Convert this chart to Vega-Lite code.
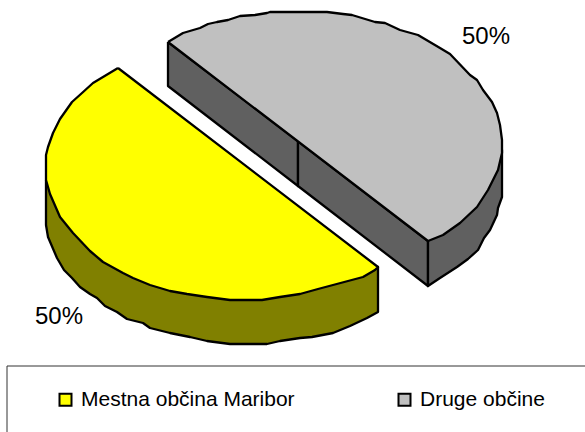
{"$schema":"https://vega.github.io/schema/vega-lite/v6.json","width":585,"height":432,"padding":0,"autosize":{"type":"fit","contains":"padding"},"background":"white","view":{"stroke":null},
"datasets":{"shapes":[
{"s":"a1","part":"Druge občine (stran)","i":0,"x":168,"y":42},{"s":"a1","part":"Druge občine (stran)","i":1,"x":298,"y":141},{"s":"a1","part":"Druge občine (stran)","i":2,"x":298,"y":186},{"s":"a1","part":"Druge občine (stran)","i":3,"x":168,"y":86},{"s":"a1","part":"Druge občine (stran)","i":4,"x":168,"y":42},
{"s":"a2","part":"Druge občine (stran)","i":0,"x":298,"y":141},{"s":"a2","part":"Druge občine (stran)","i":1,"x":428,"y":241},{"s":"a2","part":"Druge občine (stran)","i":2,"x":428,"y":286},{"s":"a2","part":"Druge občine (stran)","i":3,"x":298,"y":186},{"s":"a2","part":"Druge občine (stran)","i":4,"x":298,"y":141},
{"s":"a3","part":"Druge občine (stran)","i":0,"x":428,"y":241},{"s":"a3","part":"Druge občine (stran)","i":1,"x":502,"y":150},{"s":"a3","part":"Druge občine (stran)","i":2,"x":502,"y":197},{"s":"a3","part":"Druge občine (stran)","i":3,"x":498,"y":208},{"s":"a3","part":"Druge občine (stran)","i":4,"x":497,"y":215},{"s":"a3","part":"Druge občine (stran)","i":5,"x":490,"y":230},{"s":"a3","part":"Druge občine (stran)","i":6,"x":484,"y":238},{"s":"a3","part":"Druge občine (stran)","i":7,"x":478,"y":250},{"s":"a3","part":"Druge občine (stran)","i":8,"x":468,"y":259},{"s":"a3","part":"Druge občine (stran)","i":9,"x":457,"y":267},{"s":"a3","part":"Druge občine (stran)","i":10,"x":440,"y":278},{"s":"a3","part":"Druge občine (stran)","i":11,"x":428,"y":286},{"s":"a3","part":"Druge občine (stran)","i":12,"x":428,"y":241},
{"s":"b","part":"Druge občine","i":0,"x":168,"y":42},{"s":"b","part":"Druge občine","i":1,"x":183,"y":33},{"s":"b","part":"Druge občine","i":2,"x":200,"y":28},{"s":"b","part":"Druge občine","i":3,"x":208,"y":24},{"s":"b","part":"Druge občine","i":4,"x":217,"y":22},{"s":"b","part":"Druge občine","i":5,"x":228,"y":20},{"s":"b","part":"Druge občine","i":6,"x":240,"y":16},{"s":"b","part":"Druge občine","i":7,"x":255,"y":15},{"s":"b","part":"Druge občine","i":8,"x":267,"y":13},{"s":"b","part":"Druge občine","i":9,"x":270,"y":12},{"s":"b","part":"Druge občine","i":10,"x":327,"y":12},{"s":"b","part":"Druge občine","i":11,"x":343,"y":14},{"s":"b","part":"Druge občine","i":12,"x":352,"y":15},{"s":"b","part":"Druge občine","i":13,"x":375,"y":22},{"s":"b","part":"Druge občine","i":14,"x":385,"y":23},{"s":"b","part":"Druge občine","i":15,"x":400,"y":30},{"s":"b","part":"Druge občine","i":16,"x":418,"y":35},{"s":"b","part":"Druge občine","i":17,"x":440,"y":48},{"s":"b","part":"Druge občine","i":18,"x":450,"y":54},{"s":"b","part":"Druge občine","i":19,"x":470,"y":75},{"s":"b","part":"Druge občine","i":20,"x":477,"y":80},{"s":"b","part":"Druge občine","i":21,"x":483,"y":90},{"s":"b","part":"Druge občine","i":22,"x":492,"y":102},{"s":"b","part":"Druge občine","i":23,"x":497,"y":113},{"s":"b","part":"Druge občine","i":24,"x":500,"y":125},{"s":"b","part":"Druge občine","i":25,"x":502,"y":140},{"s":"b","part":"Druge občine","i":26,"x":502,"y":153},{"s":"b","part":"Druge občine","i":27,"x":498,"y":170},{"s":"b","part":"Druge občine","i":28,"x":494,"y":178},{"s":"b","part":"Druge občine","i":29,"x":488,"y":190},{"s":"b","part":"Druge občine","i":30,"x":477,"y":207},{"s":"b","part":"Druge občine","i":31,"x":460,"y":223},{"s":"b","part":"Druge občine","i":32,"x":443,"y":235},{"s":"b","part":"Druge občine","i":33,"x":428,"y":241},{"s":"b","part":"Druge občine","i":34,"x":168,"y":42},
{"s":"c","part":"Mestna občina Maribor (stran)","i":0,"x":46,"y":180},{"s":"c","part":"Mestna občina Maribor (stran)","i":1,"x":46,"y":225},{"s":"c","part":"Mestna občina Maribor (stran)","i":2,"x":48,"y":237},{"s":"c","part":"Mestna občina Maribor (stran)","i":3,"x":57,"y":258},{"s":"c","part":"Mestna občina Maribor (stran)","i":4,"x":64,"y":270},{"s":"c","part":"Mestna občina Maribor (stran)","i":5,"x":72,"y":278},{"s":"c","part":"Mestna občina Maribor (stran)","i":6,"x":80,"y":287},{"s":"c","part":"Mestna občina Maribor (stran)","i":7,"x":90,"y":294},{"s":"c","part":"Mestna občina Maribor (stran)","i":8,"x":97,"y":298},{"s":"c","part":"Mestna občina Maribor (stran)","i":9,"x":105,"y":306},{"s":"c","part":"Mestna občina Maribor (stran)","i":10,"x":117,"y":312},{"s":"c","part":"Mestna občina Maribor (stran)","i":11,"x":127,"y":319},{"s":"c","part":"Mestna občina Maribor (stran)","i":12,"x":143,"y":323},{"s":"c","part":"Mestna občina Maribor (stran)","i":13,"x":150,"y":328},{"s":"c","part":"Mestna občina Maribor (stran)","i":14,"x":170,"y":333},{"s":"c","part":"Mestna občina Maribor (stran)","i":15,"x":190,"y":337},{"s":"c","part":"Mestna občina Maribor (stran)","i":16,"x":207,"y":341},{"s":"c","part":"Mestna občina Maribor (stran)","i":17,"x":230,"y":344},{"s":"c","part":"Mestna občina Maribor (stran)","i":18,"x":267,"y":344},{"s":"c","part":"Mestna občina Maribor (stran)","i":19,"x":280,"y":341},{"s":"c","part":"Mestna občina Maribor (stran)","i":20,"x":300,"y":338},{"s":"c","part":"Mestna občina Maribor (stran)","i":21,"x":312,"y":337},{"s":"c","part":"Mestna občina Maribor (stran)","i":22,"x":333,"y":333},{"s":"c","part":"Mestna občina Maribor (stran)","i":23,"x":350,"y":326},{"s":"c","part":"Mestna občina Maribor (stran)","i":24,"x":367,"y":318},{"s":"c","part":"Mestna občina Maribor (stran)","i":25,"x":378,"y":312},{"s":"c","part":"Mestna občina Maribor (stran)","i":26,"x":378,"y":267},{"s":"c","part":"Mestna občina Maribor (stran)","i":27,"x":300,"y":280},{"s":"c","part":"Mestna občina Maribor (stran)","i":28,"x":46,"y":180},
{"s":"d","part":"Mestna občina Maribor","i":0,"x":118,"y":68},{"s":"d","part":"Mestna občina Maribor","i":1,"x":93,"y":83},{"s":"d","part":"Mestna občina Maribor","i":2,"x":82,"y":93},{"s":"d","part":"Mestna občina Maribor","i":3,"x":72,"y":102},{"s":"d","part":"Mestna občina Maribor","i":4,"x":60,"y":119},{"s":"d","part":"Mestna občina Maribor","i":5,"x":53,"y":133},{"s":"d","part":"Mestna občina Maribor","i":6,"x":48,"y":147},{"s":"d","part":"Mestna občina Maribor","i":7,"x":46,"y":155},{"s":"d","part":"Mestna občina Maribor","i":8,"x":46,"y":180},{"s":"d","part":"Mestna občina Maribor","i":9,"x":50,"y":194},{"s":"d","part":"Mestna občina Maribor","i":10,"x":60,"y":217},{"s":"d","part":"Mestna občina Maribor","i":11,"x":73,"y":233},{"s":"d","part":"Mestna občina Maribor","i":12,"x":90,"y":251},{"s":"d","part":"Mestna občina Maribor","i":13,"x":103,"y":262},{"s":"d","part":"Mestna občina Maribor","i":14,"x":123,"y":273},{"s":"d","part":"Mestna občina Maribor","i":15,"x":133,"y":278},{"s":"d","part":"Mestna občina Maribor","i":16,"x":150,"y":285},{"s":"d","part":"Mestna občina Maribor","i":17,"x":170,"y":291},{"s":"d","part":"Mestna občina Maribor","i":18,"x":187,"y":294},{"s":"d","part":"Mestna občina Maribor","i":19,"x":207,"y":297},{"s":"d","part":"Mestna občina Maribor","i":20,"x":230,"y":300},{"s":"d","part":"Mestna občina Maribor","i":21,"x":262,"y":300},{"s":"d","part":"Mestna občina Maribor","i":22,"x":280,"y":297},{"s":"d","part":"Mestna občina Maribor","i":23,"x":300,"y":294},{"s":"d","part":"Mestna občina Maribor","i":24,"x":318,"y":289},{"s":"d","part":"Mestna občina Maribor","i":25,"x":333,"y":285},{"s":"d","part":"Mestna občina Maribor","i":26,"x":363,"y":277},{"s":"d","part":"Mestna občina Maribor","i":27,"x":375,"y":270},{"s":"d","part":"Mestna občina Maribor","i":28,"x":378,"y":267},{"s":"d","part":"Mestna občina Maribor","i":29,"x":118,"y":68}
]},
"layer":[
{"data":{"values":[{"x":7,"x2":600,"y":366,"y2":450}]},"mark":{"type":"rect","fill":"white","stroke":"#333333","strokeWidth":1,"clip":true},"encoding":{"x":{"field":"x","type":"quantitative","scale":{"domain":[0,585]},"axis":null},"x2":{"field":"x2"},"y":{"field":"y","type":"quantitative","scale":{"domain":[432,0]},"axis":null},"y2":{"field":"y2"}}},
{"data":{"name":"shapes"},"mark":{"type":"line","stroke":"black","strokeWidth":2.3,"strokeJoin":"round"},"encoding":{"x":{"field":"x","type":"quantitative","scale":{"domain":[0,585]},"axis":null},"y":{"field":"y","type":"quantitative","scale":{"domain":[432,0]},"axis":null},"detail":{"field":"s"},"order":{"field":"i","type":"quantitative"},"fill":{"field":"part","type":"nominal","scale":{"domain":["Mestna občina Maribor","Druge občine","Mestna občina Maribor (stran)","Druge občine (stran)"],"range":["#ffff00","#c0c0c0","#808000","#606060"]},"legend":{"values":["Mestna občina Maribor","Druge občine"],"title":null,"orient":"none","legendX":55,"legendY":389,"direction":"horizontal","columns":2,"columnPadding":99,"symbolType":"square","symbolSize":144,"symbolStrokeColor":"black","symbolStrokeWidth":2,"symbolOpacity":1,"labelFont":"Liberation Sans","labelFontSize":21,"labelColor":"black","labelLimit":400,"labelOffset":5}}}},
{"data":{"values":[{"t":"50%","x":486,"y":37},{"t":"50%","x":59,"y":317}]},"mark":{"type":"text","font":"Liberation Sans","fontSize":24,"color":"black"},"encoding":{"x":{"field":"x","type":"quantitative","scale":{"domain":[0,585]},"axis":null},"y":{"field":"y","type":"quantitative","scale":{"domain":[432,0]},"axis":null},"text":{"field":"t"}}}
]}
